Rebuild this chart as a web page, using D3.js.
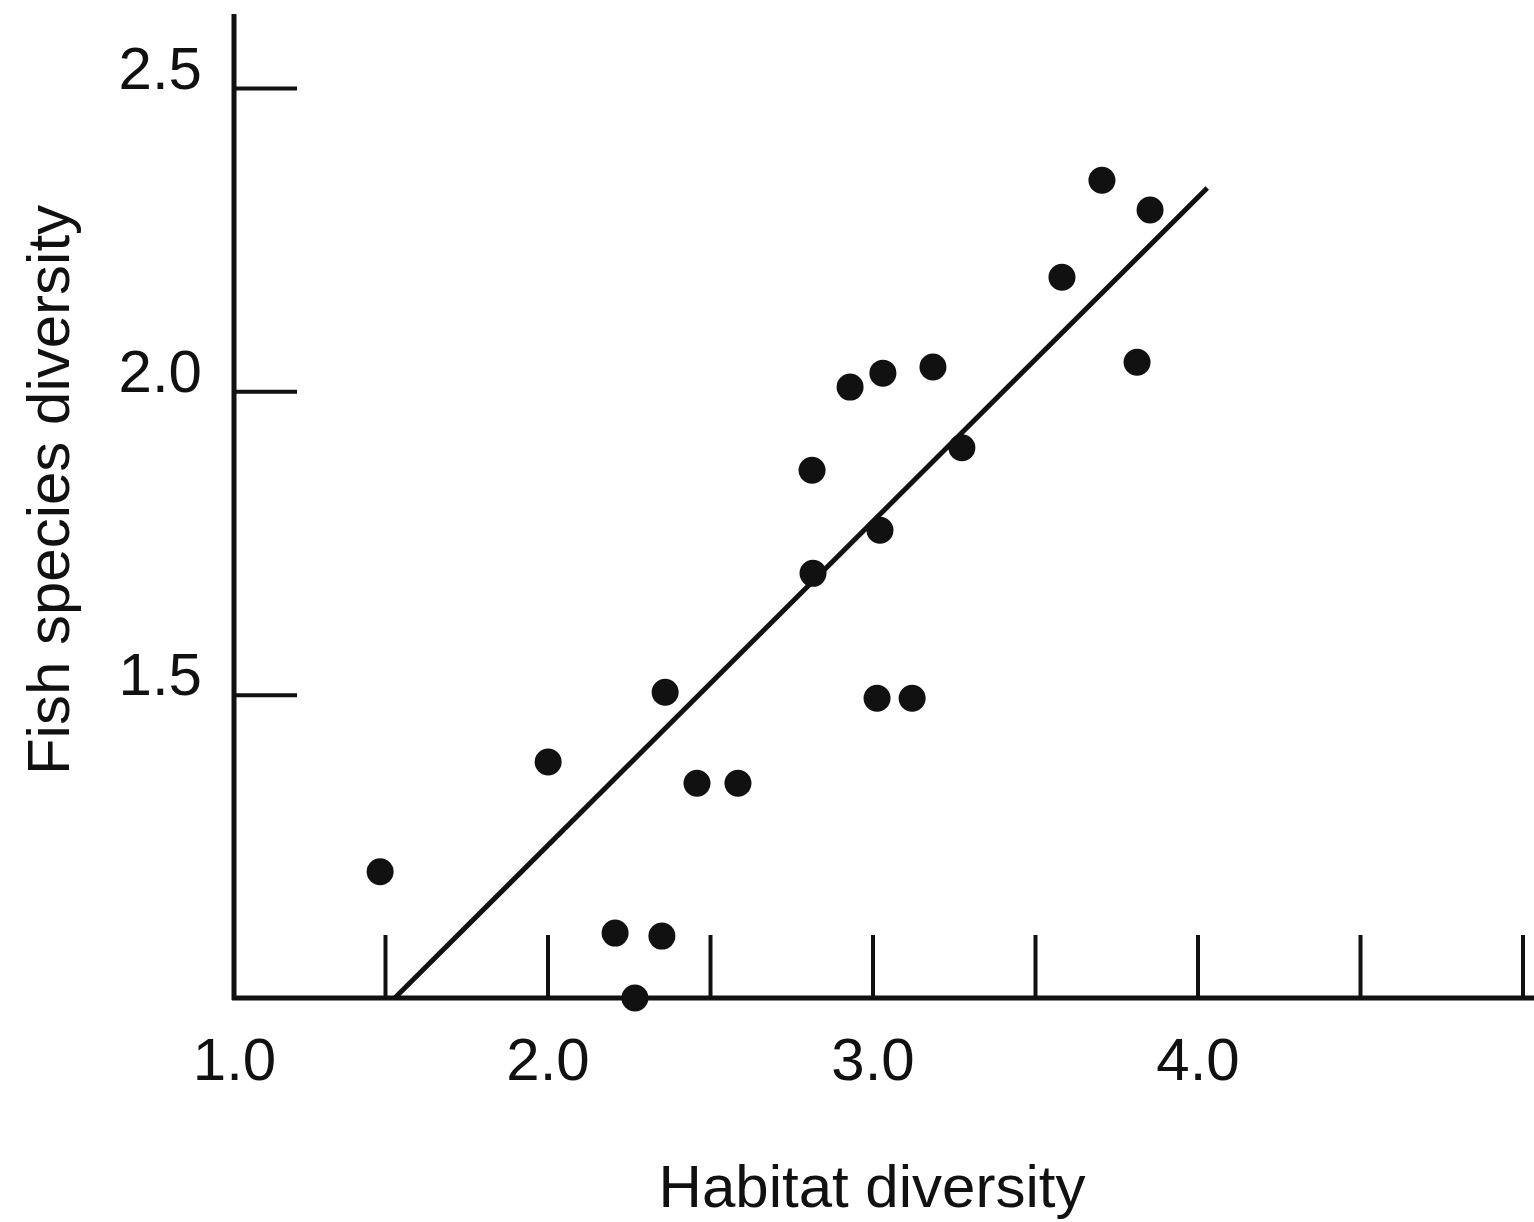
<!DOCTYPE html>
<html>
<head>
<meta charset="utf-8">
<script src="https://cdn.jsdelivr.net/npm/d3@7"></script>
<style>
  body { margin: 0; background: #fff; }
  text { font-family: "Liberation Sans", Arial, sans-serif; fill: #111; }
</style>
</head>
<body>
<script>
// habitat diversity vs fish species diversity, one point per site
var habitat = [1.485, 2.002, 2.362, 2.460, 2.586, 2.208, 2.352, 2.269,
               2.931, 3.032, 3.186, 2.814, 3.275, 3.023, 2.817, 3.014, 3.122,
               3.706, 3.854, 3.583, 3.814];
var fish = [1.208, 1.389, 1.504, 1.354, 1.354, 1.107, 1.102, 1.0,
            2.007, 2.030, 2.040, 1.870, 1.907, 1.771, 1.700, 1.494, 1.494,
            2.348, 2.299, 2.188, 2.048];

// fitted line end points
var fitX = [1.53, 4.03];
var fitY = [1.0, 2.335];

var xTicks = [1.0, 1.5, 2.0, 2.5, 3.0, 3.5, 4.0, 4.5, 5.0];
var xLabels = [1.0, 2.0, 3.0, 4.0];
var yTicks = [1.5, 2.0, 2.5];

var width = 1534;
var height = 1222;
var axisX = 234;   // where the vertical axis sits
var axisTop = 14;

var svg = d3.select("body").append("svg")
    .attr("width", width)
    .attr("height", height);

var x = d3.scaleLinear().domain([1, 5]).range([222.5, 1522.5]);
var y = d3.scaleLinear().domain([1, 2.5]).range([998, 88]);

// x axis: ticks point up into the plot
var xAxis = svg.append("g")
    .attr("transform", "translate(0," + y(1) + ")")
    .call(d3.axisBottom(x)
        .tickValues(xTicks)
        .tickSize(-63)
        .tickFormat(function(d) { return xLabels.indexOf(d) >= 0 ? d3.format(".1f")(d) : ""; }));
xAxis.select(".domain").remove();
xAxis.selectAll(".tick line")
    .attr("stroke", "#111")
    .attr("stroke-width", 4)
    .filter(function(d) { return d === 1.0; }).remove();
xAxis.selectAll(".tick text")
    .attr("y", 82)
    .attr("dy", 0)
    .attr("font-size", 60);
// the 1.0 label sits under the vertical axis
xAxis.selectAll(".tick text")
    .filter(function(d) { return d === 1.0; })
    .attr("x", axisX - x(1));
xAxis.append("line")
    .attr("x1", axisX - 2).attr("x2", width)
    .attr("stroke", "#111")
    .attr("stroke-width", 5);

// y axis: ticks point right into the plot
var yAxis = svg.append("g")
    .attr("transform", "translate(" + axisX + ",0)")
    .call(d3.axisLeft(y)
        .tickValues(yTicks)
        .tickSize(-63)
        .tickPadding(32)
        .tickFormat(d3.format(".1f")));
yAxis.select(".domain").remove();
yAxis.selectAll(".tick line")
    .attr("stroke", "#111")
    .attr("stroke-width", 4);
yAxis.selectAll(".tick text")
    .attr("dy", 0)
    .attr("font-size", 60);
yAxis.append("line")
    .attr("y1", axisTop).attr("y2", y(1) + 2)
    .attr("stroke", "#111")
    .attr("stroke-width", 5);

// regression line
svg.append("line")
    .attr("x1", x(fitX[0])).attr("y1", y(fitY[0]))
    .attr("x2", x(fitX[1])).attr("y2", y(fitY[1]))
    .attr("stroke", "#111")
    .attr("stroke-width", 5);

// points
svg.selectAll("circle")
    .data(habitat)
    .enter()
    .append("circle")
    .attr("cx", function(d) { return x(d); })
    .attr("cy", function(d, i) { return y(fish[i]); })
    .attr("r", 13.5)
    .attr("fill", "#111");

// axis titles
svg.append("text")
    .attr("x", 872)
    .attr("y", 1207)
    .attr("text-anchor", "middle")
    .attr("font-size", 60)
    .text("Habitat diversity");

svg.append("text")
    .attr("transform", "translate(69,490) rotate(-90)")
    .attr("text-anchor", "middle")
    .attr("font-size", 60)
    .text("Fish species diversity");
</script>
</body>
</html>
